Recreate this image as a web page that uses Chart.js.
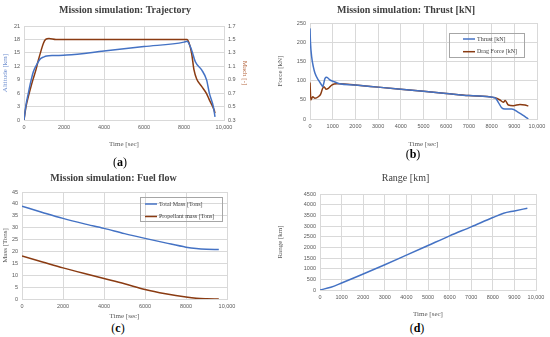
<!DOCTYPE html>
<html>
<head>
<meta charset="utf-8">
<script src="https://cdn.jsdelivr.net/npm/chart.js@4.4.1/dist/chart.umd.min.js"></script>
<style>
  body { margin: 0; background: #fff; width: 550px; height: 337px; position: relative; overflow: hidden; font-family: "Liberation Serif", serif; }
  canvas { position: absolute; }
  .cap { position: absolute; font-size: 12px; color: #000; transform: translateX(-50%); line-height: 12px; }
</style>
</head>
<body>
<canvas id="ca" width="250" height="148" style="left:0;top:0"></canvas>
<canvas id="cb" width="275" height="148" style="left:275px;top:0"></canvas>
<canvas id="cc" width="250" height="152" style="left:0;top:168px"></canvas>
<canvas id="cd" width="275" height="150" style="left:275px;top:168px"></canvas>
<div class="cap" style="left:120px;top:156px">(<b>a</b>)</div>
<div class="cap" style="left:413px;top:148px">(<b>b</b>)</div>
<div class="cap" style="left:118px;top:322px">(<b>c</b>)</div>
<div class="cap" style="left:417px;top:322px">(<b>d</b>)</div>
<script>
// (a) trajectory
const altTime = [0, 100, 200, 300, 467, 650, 800, 1000, 1133, 1500, 2133, 4000, 6000, 8000, 8150, 8383, 8567, 8883, 9133, 9267, 9467, 9550]
const altitude = [0, 3.4, 5.6, 7.8, 10.8, 12.5, 13.6, 14.1, 14.3, 14.4, 14.5, 15.4, 16.4, 17.4, 17.6, 15.6, 13.0, 11.2, 8.9, 6.0, 3.0, 0.7]
const machTime = [0, 100, 217, 350, 467, 600, 717, 850, 967, 1083, 1250, 1600, 8150, 8250, 8383, 8500, 8633, 8883, 9133, 9267, 9517, 9550]
const mach = [0.3, 0.5, 0.65, 0.8, 0.92, 1.05, 1.19, 1.33, 1.44, 1.5, 1.515, 1.5, 1.5, 1.45, 1.29, 1.045, 0.91, 0.8, 0.69, 0.6, 0.44, 0.4]

// (b) thrust / drag
const thrustTime = [0, 20, 73, 150, 220, 366, 514, 560, 661, 734, 881, 1028, 1175, 1300, 2000, 3000, 4000, 5000, 6000, 7000, 8150, 8295, 8443, 8590, 8885, 9177, 9471, 9617]
const thrust = [236, 200, 162, 135, 119, 101.6, 88.5, 84, 106, 108.6, 101.6, 98, 94.5, 92, 88.5, 83, 77.5, 72, 66.5, 61, 55.5, 43.5, 29.4, 26, 26, 17.4, 6, 0]
const dragTime = [0, 40, 120, 220, 366, 470, 560, 617, 705, 808, 955, 1175, 1300, 2000, 3000, 4000, 5000, 6000, 7000, 8150, 8370, 8515, 8600, 8737, 8957, 9251, 9471, 9617]
const drag = [95, 49.5, 58, 54, 58, 65, 80, 84, 77.6, 80, 88.5, 92, 92, 88.5, 83, 77.5, 72, 66.5, 61, 55.5, 49.5, 43.5, 48, 36.5, 34.6, 38, 36.5, 34]

// (c) fuel flow
const massTime = [0, 1000, 2000, 3000, 4000, 5000, 6000, 7000, 8000, 8500, 9000, 9600]
const totalMass = [39.0, 36.4, 33.9, 31.7, 29.7, 27.5, 25.5, 23.6, 21.8, 21.2, 20.9, 20.8]
const propMass = [18.1, 15.6, 13.1, 10.8, 8.6, 6.4, 4.0, 2.2, 0.8, 0.3, 0.1, 0]

// (d) range
const rangeTime = [0, 500, 1000, 2000, 3000, 4000, 5000, 6000, 7000, 8000, 8500, 9000, 9600]
const range = [0, 130, 327, 748, 1183, 1635, 2087, 2539, 2960, 3396, 3598, 3707, 3832]

const BLUE = '#4472c4'
const BROWN = '#8a3b12'
const GRID = '#d9d9d9'
const TICK = '#595959'
const SERIF = '"Liberation Serif", serif'

const pts = (xs, ys) => xs.map((x, i) => ({ x, y: ys[i] }))

function line(label, xs, ys, color, axis) {
  return { label, data: pts(xs, ys), borderColor: color, backgroundColor: color,
    borderWidth: 1.5, pointRadius: 0, cubicInterpolationMode: 'monotone', yAxisID: axis || 'y' }
}

function xAxis(step, height) {
  return {
    type: 'linear', min: 0, max: 10000,
    afterFit: s => { s.height = height },
    grid: { color: GRID, drawTicks: false },
    border: { color: GRID },
    ticks: { stepSize: step, padding: 4, color: TICK, font: { size: 5.5 }, maxRotation: 0, autoSkip: false,
      callback: v => v === 10000 ? '10,000' : String(v) },
    title: { display: true, text: 'Time [sec]', color: TICK, font: { family: SERIF, size: 7 }, padding: 0 }
  }
}

function yAxis(min, max, step, text, width, color, pos) {
  return {
    position: pos || 'left', min, max,
    afterFit: s => { s.width = width },
    grid: { color: GRID, drawTicks: false, display: pos !== 'right' },
    border: { display: false },
    ticks: { stepSize: step, padding: 4, color: TICK, font: { size: 5.5 }, callback: v => String(Math.round(v * 10) / 10) },
    title: { display: true, text, color: color || TICK, font: { family: SERIF, size: 7 }, padding: 1 }
  }
}

function title(text, bold, below) {
  return { display: true, text, color: '#404040',
    font: { family: SERIF, size: 10, weight: bold ? 'bold' : 'normal' },
    padding: { top: 4, bottom: below } }
}

// legend drawn in a bordered box inside the plot area
const boxLegend = {
  id: 'boxLegend',
  afterDraw(chart, args, o) {
    if (!o || o.width === undefined) return
    const { ctx, chartArea } = chart
    const x = Math.round(chartArea.left + o.left), y = Math.round(chartArea.top + o.top)
    ctx.save()
    ctx.strokeStyle = '#a6a6a6'
    ctx.lineWidth = 1
    ctx.strokeRect(x + 0.5, y + 0.5, o.width, o.height)
    ctx.font = '6px ' + SERIF
    ctx.textBaseline = 'middle'
    chart.data.datasets.forEach((ds, i) => {
      const ly = y + o.rowTop + i * o.rowGap
      ctx.strokeStyle = ds.borderColor
      ctx.lineWidth = 1.5
      ctx.beginPath()
      ctx.moveTo(x + o.lineX, ly)
      ctx.lineTo(x + o.lineX + 12, ly)
      ctx.stroke()
      ctx.fillStyle = '#404040'
      ctx.fillText(ds.label, x + o.lineX + 14, ly)
    })
    ctx.restore()
  }
}
Chart.register(boxLegend)

const base = { responsive: false, animation: false, maintainAspectRatio: false }

new Chart(document.getElementById('ca'), {
  type: 'line',
  data: { datasets: [
    line('Altitude [km]', altTime, altitude, BLUE, 'y'),
    line('Mach [-]', machTime, mach, BROWN, 'y1')
  ] },
  options: { ...base,
    plugins: { legend: { display: false }, title: title('Mission simulation: Trajectory', true, 10), boxLegend: {} },
    scales: {
      x: xAxis(2000, 28),
      y: yAxis(0, 21, 3, 'Altitude [km]', 24, '#6f8fd0'),
      y1: yAxis(0.3, 1.7, 0.2, 'Mach [-]', 26, '#b5663f', 'right')
    }
  }
})

new Chart(document.getElementById('cb'), {
  type: 'line',
  data: { datasets: [
    line('Thrust [kN]', thrustTime, thrust, BLUE),
    line('Drag Force [kN]', dragTime, drag, BROWN)
  ] },
  options: { ...base,
    layout: { padding: { right: 13 } },
    plugins: { legend: { display: false }, title: title('Mission simulation: Thrust [kN]', true, 7),
      boxLegend: { left: 139, top: 10, width: 75, height: 24, lineX: 14, rowTop: 6, rowGap: 12.7 } },
    scales: { x: xAxis(1000, 29), y: yAxis(0, 250, 50, 'Force [kN]', 35) }
  }
})

new Chart(document.getElementById('cc'), {
  type: 'line',
  data: { datasets: [
    line('Total Mass [Tons]', massTime, totalMass, BLUE),
    line('Propellant mass [Tons]', massTime, propMass, BROWN)
  ] },
  options: { ...base,
    layout: { padding: { right: 23 } },
    plugins: { legend: { display: false }, title: title('Mission simulation: Fuel flow', true, 8),
      boxLegend: { left: 118, top: 5, width: 82, height: 24, lineX: 5, rowTop: 7, rowGap: 12.5 } },
    scales: { x: xAxis(2000, 21), y: yAxis(0, 45, 5, 'Mass [Tons]', 22) }
  }
})

new Chart(document.getElementById('cd'), {
  type: 'line',
  data: { datasets: [ line('Range [km]', rangeTime, range, BLUE) ] },
  options: { ...base,
    layout: { padding: { right: 14 } },
    plugins: { legend: { display: false }, title: title('Range [km]', false, 10), boxLegend: {} },
    scales: { x: xAxis(1000, 28), y: yAxis(0, 4500, 500, 'Range [km]', 45) }
  }
})
</script>
</body>
</html>
